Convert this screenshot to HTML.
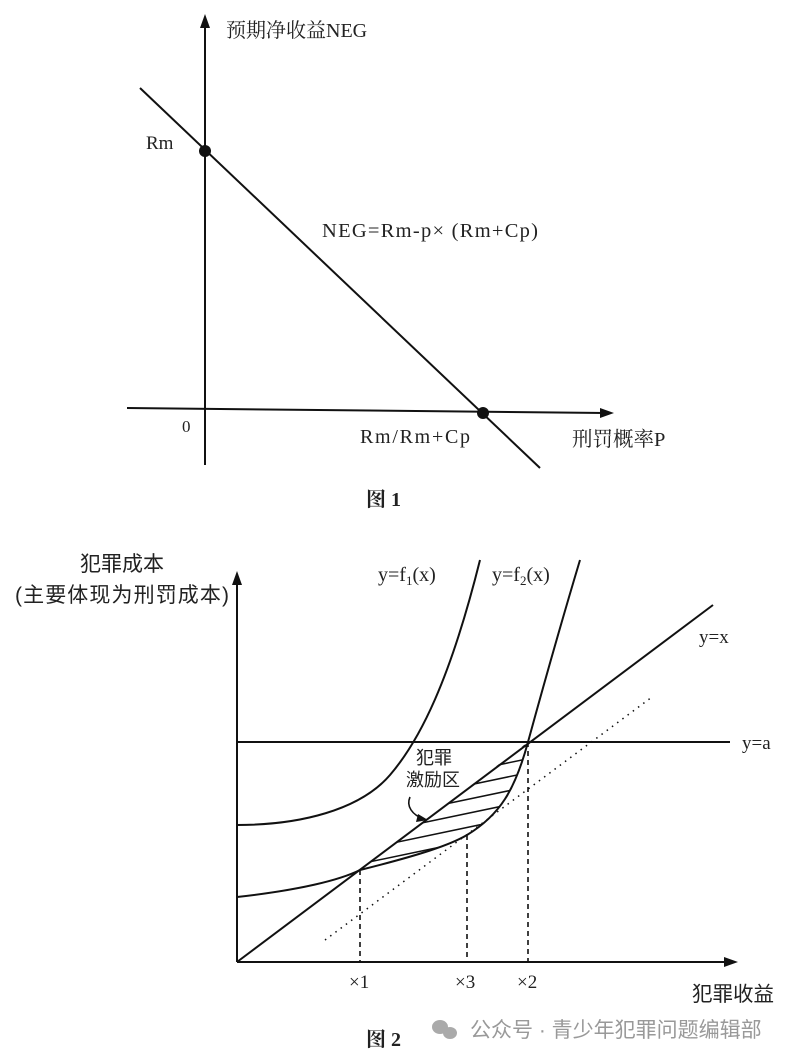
<!DOCTYPE html>
<html><head><meta charset="utf-8"><style>
html,body{margin:0;padding:0;background:#fff}
svg{display:block}
text{font-family:"Liberation Serif","Noto Serif CJK SC",serif;fill:#222}
.cj{font-family:"Liberation Sans","Noto Sans CJK SC",sans-serif}
.cs{font-family:"Liberation Serif","Noto Serif CJK SC",serif}
</style></head><body>
<svg width="800" height="1061" viewBox="0 0 800 1061" xmlns="http://www.w3.org/2000/svg">
<defs>
<clipPath id="hc"><path d="M360,870 L528,742 C515,790 500,815 467,835 C450,845 420,855 360,870 Z"/></clipPath>
</defs>
<g stroke="#111" stroke-width="2" fill="none">
<line x1="205" y1="465" x2="205" y2="22"/>
<line x1="127" y1="408" x2="605" y2="413"/>
<line x1="140" y1="88" x2="540" y2="468"/>
</g>
<polygon points="205,14 200,28 210,28" fill="#111"/>
<polygon points="614,413 600,408 600,418" fill="#111"/>
<circle cx="205" cy="151" r="6" fill="#111"/>
<circle cx="483" cy="413" r="6" fill="#111"/>
<text x="226" y="37" font-size="20" class="cs">预期净收益NEG</text>
<text x="146" y="149" font-size="19">Rm</text>
<text x="322" y="237" font-size="20.5" textLength="216">NEG=Rm-p× (Rm+Cp)</text>
<text x="182" y="432" font-size="17">0</text>
<text x="360" y="443" font-size="20" textLength="110">Rm/Rm+Cp</text>
<text x="572" y="446" font-size="20.5" class="cs">刑罚概率P</text>
<text x="366" y="506" font-size="20" font-weight="bold" class="cs">图 1</text>

<g stroke="#111" stroke-width="2" fill="none">
<line x1="237" y1="962" x2="237" y2="580"/>
<line x1="237" y1="962" x2="728" y2="962"/>
<line x1="237" y1="962" x2="713" y2="605"/>
<line x1="237" y1="742" x2="730" y2="742"/>
<path d="M237,825 C300,825 360,810 390,775 C420,740 450,680 480,560"/>
<path d="M237,897 C300,890 340,880 360,870 C420,855 450,845 467,835 C500,815 515,790 528,742 C545,680 565,610 580,560"/>
<g clip-path="url(#hc)" stroke-width="1.5">
<line x1="350" y1="880" x2="560" y2="836"/>
<line x1="350" y1="866" x2="560" y2="822"/>
<line x1="350" y1="852" x2="560" y2="808"/>
<line x1="350" y1="838" x2="560" y2="794"/>
<line x1="350" y1="824" x2="560" y2="780"/>
<line x1="350" y1="810" x2="560" y2="766"/>
<line x1="350" y1="796" x2="560" y2="752"/>
<line x1="350" y1="782" x2="560" y2="738"/>
</g>
<path d="M410,797 C406,806 412,815 424,819" stroke-width="1.6"/>
</g>
<polygon points="428,820 418,814 416,822" fill="#111"/>
<g stroke="#111" stroke-width="1.6" stroke-dasharray="5,4">
<line x1="360" y1="870" x2="360" y2="962"/>
<line x1="467" y1="835" x2="467" y2="962"/>
<line x1="528" y1="742" x2="528" y2="962"/>
</g>
<line x1="325" y1="940" x2="652" y2="697" stroke="#111" stroke-width="1.5" stroke-dasharray="1.5,5"/>
<polygon points="237,571 232,585 242,585" fill="#111"/>
<polygon points="738,962 724,957 724,967" fill="#111"/>
<text x="80" y="571" font-size="21" class="cj">犯罪成本</text>
<text x="15" y="602" font-size="21" class="cj" textLength="214">(主要体现为刑罚成本)</text>
<text x="378" y="581" font-size="20">y=f<tspan font-size="13" dy="4">1</tspan><tspan dy="-4">(x)</tspan></text>
<text x="492" y="581" font-size="20">y=f<tspan font-size="13" dy="4">2</tspan><tspan dy="-4">(x)</tspan></text>
<text x="699" y="643" font-size="19">y=x</text>
<text x="742" y="749" font-size="19">y=a</text>
<text x="416" y="764" font-size="18" class="cj">犯罪</text>
<text x="406" y="786" font-size="18" class="cj">激励区</text>
<text x="349" y="988" font-size="19">×1</text>
<text x="455" y="988" font-size="19">×3</text>
<text x="517" y="988" font-size="19">×2</text>
<text x="692" y="1001" font-size="20.5" class="cj">犯罪收益</text>
<text x="366" y="1046" font-size="20" font-weight="bold" class="cs">图 2</text>
<g fill="#aaa"><ellipse cx="440" cy="1027" rx="8" ry="7"/><ellipse cx="450" cy="1033" rx="7" ry="6"/></g>
<text x="470" y="1037" font-size="21" class="cj" style="fill:#999">公众号 · 青少年犯罪问题编辑部</text>
</svg>
</body></html>
